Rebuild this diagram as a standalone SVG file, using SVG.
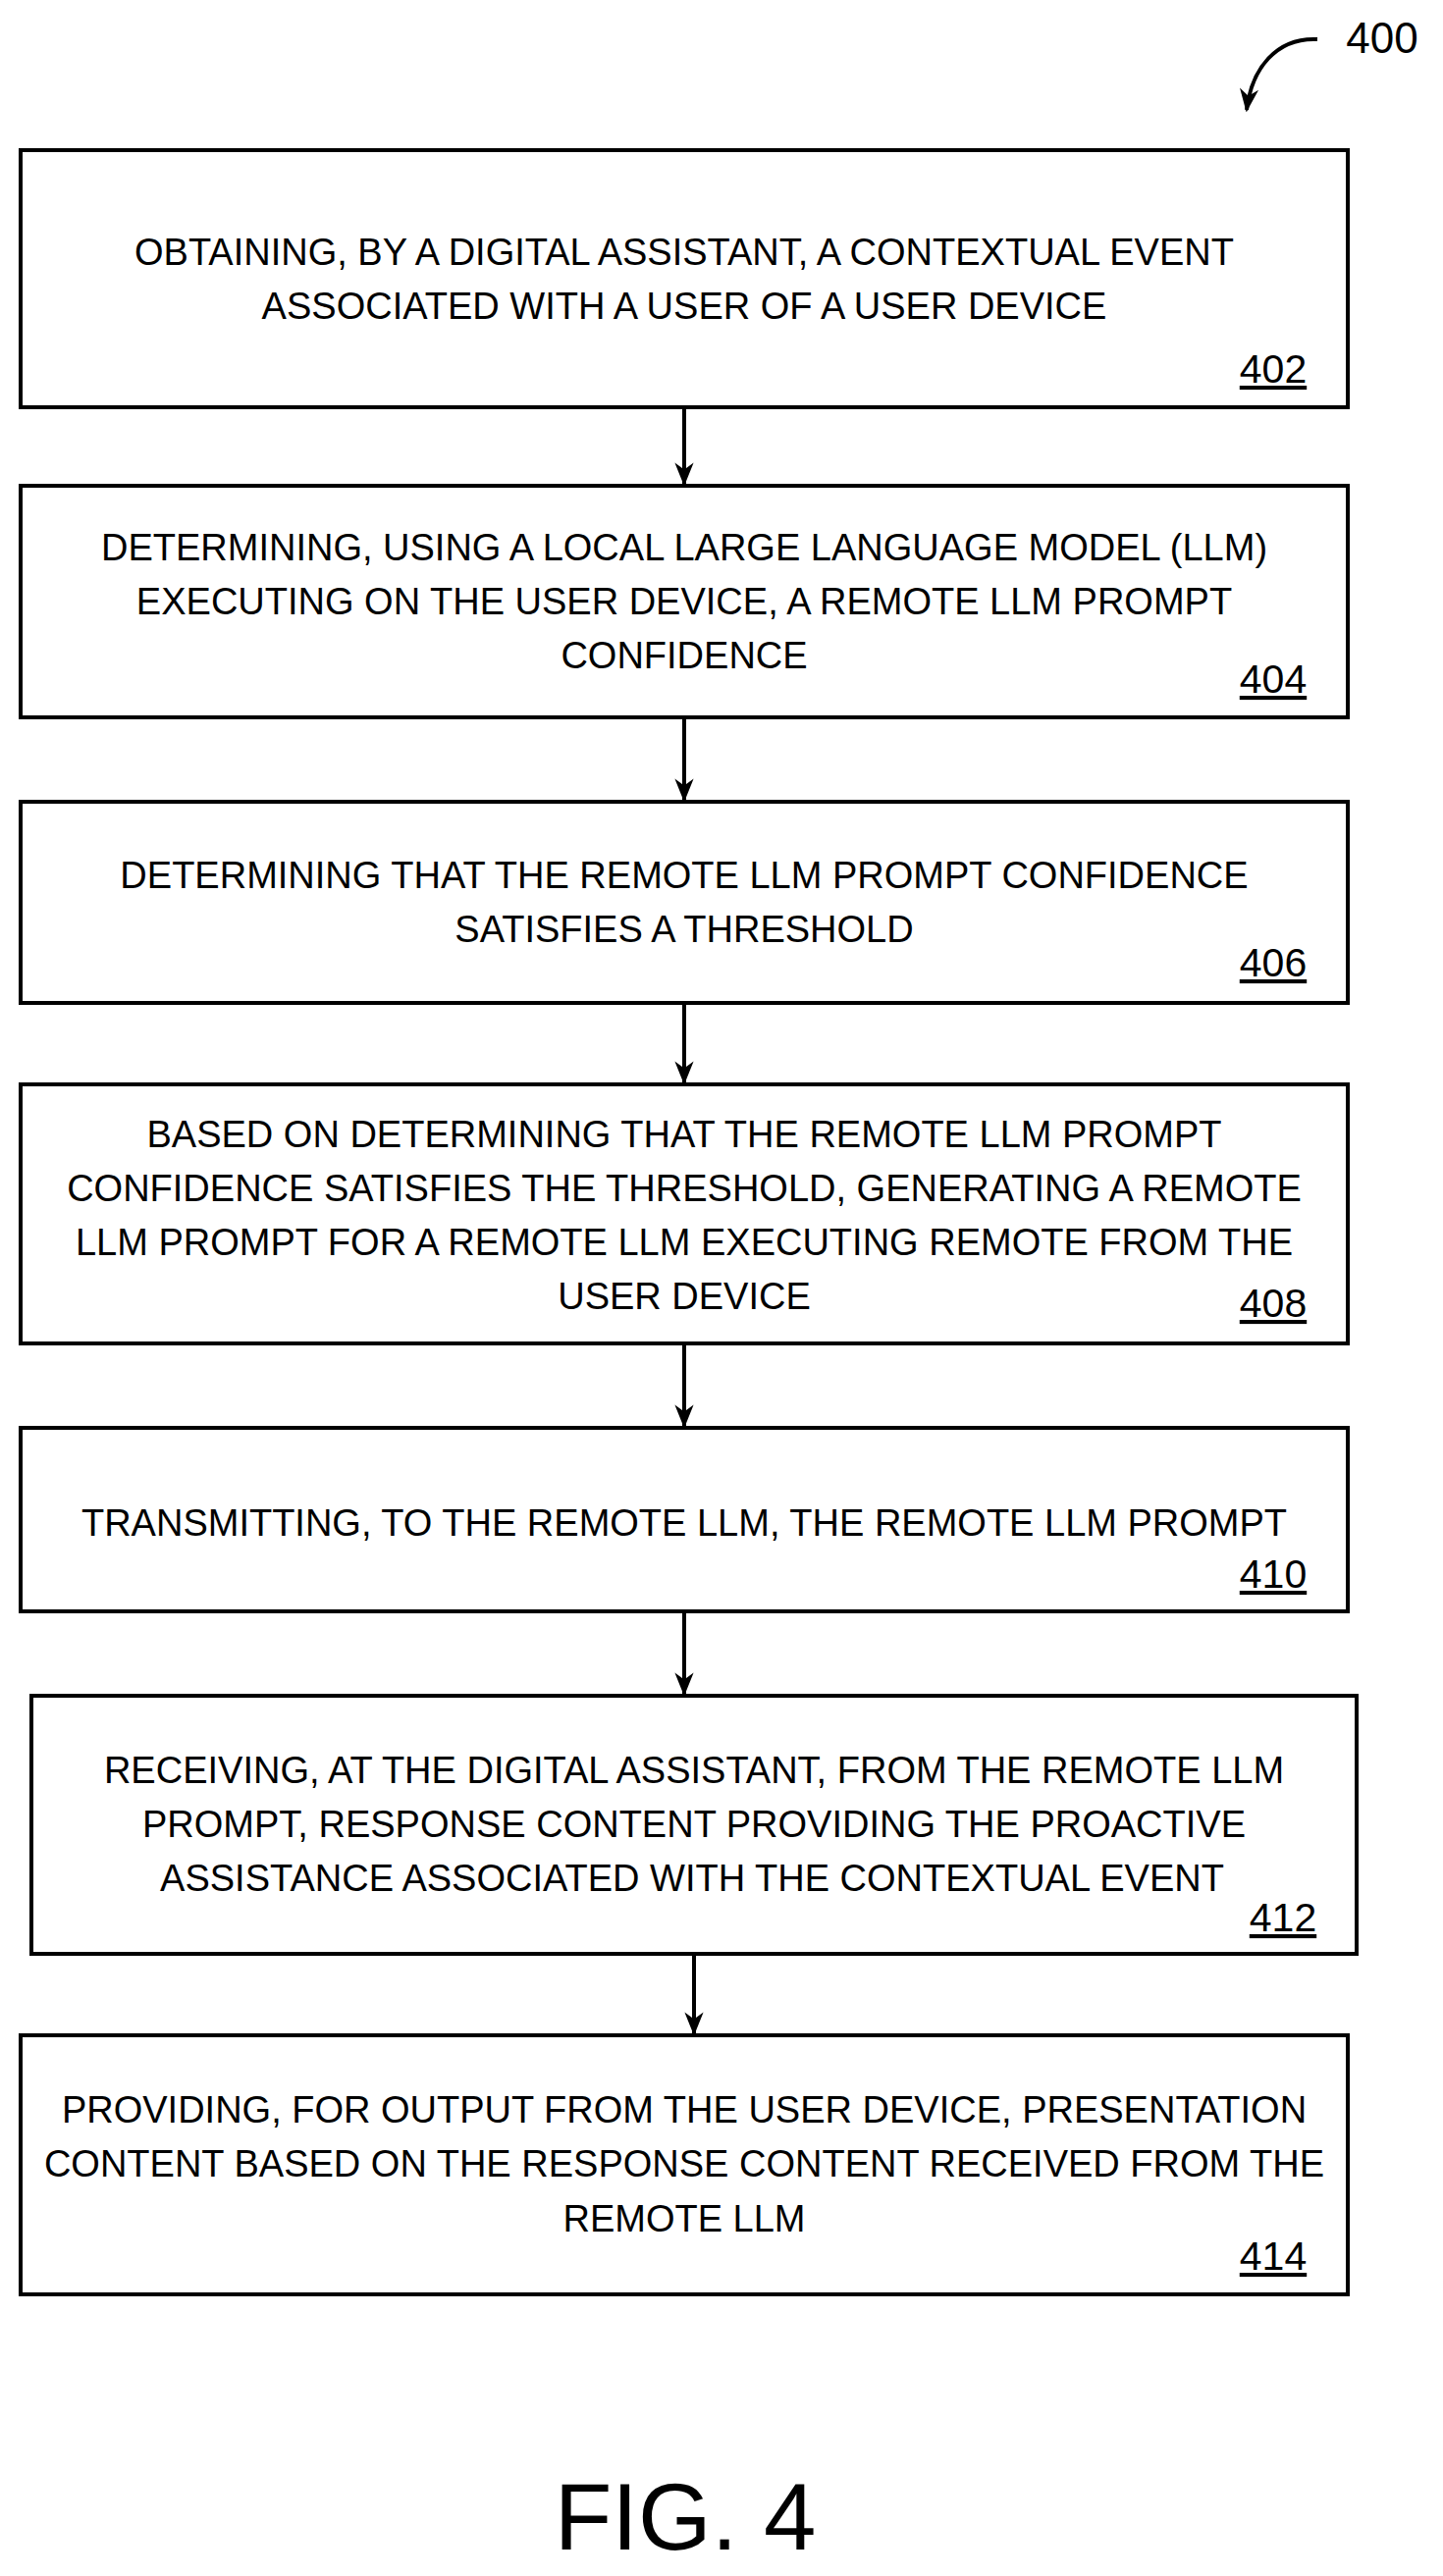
<svg xmlns="http://www.w3.org/2000/svg" width="1470" height="2625" viewBox="0 0 1470 2625">
<style>
.b{fill:#fff;stroke:#000;stroke-width:4}
.t{font-family:"Liberation Sans",Arial,sans-serif;font-size:38px;text-anchor:middle;fill:#000}
.l{font-family:"Liberation Sans",Arial,sans-serif;font-size:41px;text-anchor:middle;fill:#000;text-decoration:underline}
.c{stroke:#000;stroke-width:4;fill:none}
</style>
<defs>
<marker id="m" viewBox="0 0 10 10" refX="9" refY="5" markerWidth="24" markerHeight="24" orient="auto" markerUnits="userSpaceOnUse"><path d="M0,1 L10,5 L0,9 L3,5 z" fill="#000"/></marker></defs>
<g id="ref400"><text x="1408" y="54" style="font-family:'Liberation Sans',Arial,sans-serif;font-size:44px" text-anchor="middle">400</text>
<path class="c" d="M1342,40 C1300,38 1275,70 1270,112" marker-end="url(#m)"/></g>
<g id="n402"><rect class="b" x="21" y="153" width="1352" height="262"/>
<text class="t" x="697" y="270">OBTAINING, BY A DIGITAL ASSISTANT, A CONTEXTUAL EVENT</text>
<text class="t" x="697" y="325">ASSOCIATED WITH A USER OF A USER DEVICE</text>
<text class="l" x="1297" y="390">402</text></g>
<g id="n404"><rect class="b" x="21" y="495" width="1352" height="236"/>
<text class="t" x="697" y="571">DETERMINING, USING A LOCAL LARGE LANGUAGE MODEL (LLM)</text>
<text class="t" x="697" y="626">EXECUTING ON THE USER DEVICE, A REMOTE LLM PROMPT</text>
<text class="t" x="697" y="681">CONFIDENCE</text>
<text class="l" x="1297" y="706">404</text></g>
<g id="n406"><rect class="b" x="21" y="817" width="1352" height="205"/>
<text class="t" x="697" y="905">DETERMINING THAT THE REMOTE LLM PROMPT CONFIDENCE</text>
<text class="t" x="697" y="960">SATISFIES A THRESHOLD</text>
<text class="l" x="1297" y="995">406</text></g>
<g id="n408"><rect class="b" x="21" y="1105" width="1352" height="264"/>
<text class="t" x="697" y="1169">BASED ON DETERMINING THAT THE REMOTE LLM PROMPT</text>
<text class="t" x="697" y="1224">CONFIDENCE SATISFIES THE THRESHOLD, GENERATING A REMOTE</text>
<text class="t" x="697" y="1279">LLM PROMPT FOR A REMOTE LLM EXECUTING REMOTE FROM THE</text>
<text class="t" x="697" y="1334">USER DEVICE</text>
<text class="l" x="1297" y="1342">408</text></g>
<g id="n410"><rect class="b" x="21" y="1455" width="1352" height="187"/>
<text class="t" x="697" y="1565">TRANSMITTING, TO THE REMOTE LLM, THE REMOTE LLM PROMPT</text>
<text class="l" x="1297" y="1618">410</text></g>
<g id="n412"><rect class="b" x="32" y="1728" width="1350" height="263"/>
<text class="t" x="707" y="1817">RECEIVING, AT THE DIGITAL ASSISTANT, FROM THE REMOTE LLM</text>
<text class="t" x="707" y="1872">PROMPT, RESPONSE CONTENT PROVIDING THE PROACTIVE</text>
<text class="t" x="705" y="1927">ASSISTANCE ASSOCIATED WITH THE CONTEXTUAL EVENT</text>
<text class="l" x="1307" y="1968">412</text></g>
<g id="n414"><rect class="b" x="21" y="2074" width="1352" height="264"/>
<text class="t" x="697" y="2163">PROVIDING, FOR OUTPUT FROM THE USER DEVICE, PRESENTATION</text>
<text class="t" x="697" y="2218">CONTENT BASED ON THE RESPONSE CONTENT RECEIVED FROM THE</text>
<text class="t" x="697" y="2274">REMOTE LLM</text>
<text class="l" x="1297" y="2313">414</text></g>
<g id="connectors">
<line class="c" x1="697" y1="415" x2="697" y2="493" marker-end="url(#m)"/>
<line class="c" x1="697" y1="731" x2="697" y2="815" marker-end="url(#m)"/>
<line class="c" x1="697" y1="1022" x2="697" y2="1103" marker-end="url(#m)"/>
<line class="c" x1="697" y1="1369" x2="697" y2="1453" marker-end="url(#m)"/>
<line class="c" x1="697" y1="1642" x2="697" y2="1726" marker-end="url(#m)"/>
<line class="c" x1="707" y1="1991" x2="707" y2="2072" marker-end="url(#m)"/>
</g>
<text x="698" y="2598" style="font-family:'Liberation Sans',Arial,sans-serif;font-size:96px" text-anchor="middle">FIG. 4</text>
</svg>
